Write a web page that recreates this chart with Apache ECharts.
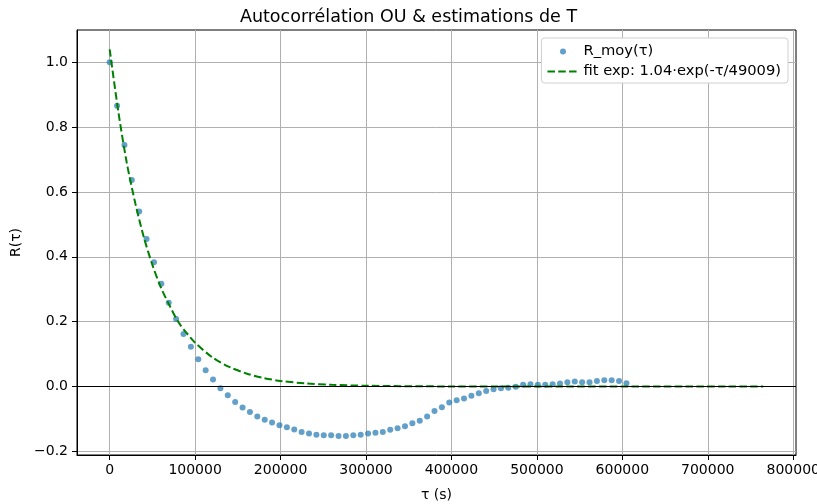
<!DOCTYPE html>
<html>
<head>
<meta charset="utf-8">
<script src="https://cdn.jsdelivr.net/npm/echarts@6/dist/echarts.min.js"></script>
<style>
  html, body { margin: 0; padding: 0; background: #fff; }
  #chart { width: 817px; height: 504px; }
</style>
</head>
<body>
<div id="chart"></div>
<script>
// lag step: 8640 s (0.1 day), 71 lags
const tauStep = 8640;
const rMoy = [
  1.000, 0.866, 0.745, 0.637, 0.540, 0.455, 0.383, 0.317, 0.258, 0.208,
  0.162, 0.122, 0.084, 0.050, 0.0215, -0.006, -0.027, -0.048, -0.065, -0.079,
  -0.093, -0.103, -0.111, -0.120, -0.126, -0.133, -0.141, -0.145, -0.149, -0.151,
  -0.151, -0.153, -0.153, -0.151, -0.149, -0.145, -0.143, -0.141, -0.134, -0.129,
  -0.123, -0.114, -0.106, -0.093, -0.076, -0.064, -0.050, -0.043, -0.037, -0.029,
  -0.021, -0.014, -0.009, -0.006, -0.004, -0.001, 0.005, 0.007, 0.005, 0.005,
  0.007, 0.009, 0.013, 0.015, 0.013, 0.013, 0.017, 0.019, 0.019, 0.017,
  0.010
];
// dashed fit curve
const fitTau = [0, 10000, 20000, 30000, 40000, 50000, 60000, 70000, 80000, 90000,
  100000, 120000, 140000, 160000, 180000, 200000, 230000, 260000, 300000, 400000, 765000];
const fitVal = [1.04, 0.85, 0.69, 0.565, 0.46, 0.375, 0.305, 0.25, 0.20, 0.165,
  0.135, 0.09, 0.06, 0.04, 0.026, 0.017, 0.009, 0.005, 0.002, 0.0, 0.0];

const xTicks = [0, 100000, 200000, 300000, 400000, 500000, 600000, 700000, 800000];
const yTicks = [-0.2, 0.0, 0.2, 0.4, 0.6, 0.8, 1.0];

const scatterData = rMoy.map((v, i) => [i * tauStep, v]);
const fitData = fitTau.map((t, i) => [t, fitVal[i]]);

const font = 'DejaVu Sans';
const chart = echarts.init(document.getElementById('chart'), null, { renderer: 'canvas' });

chart.setOption({
  animation: false,
  backgroundColor: '#fff',
  textStyle: { fontFamily: font },
  title: {
    text: 'Autocorrélation OU & estimations de T',
    left: 'center', top: 3,
    textStyle: { fontFamily: font, fontSize: 17.5, fontWeight: 'normal', color: '#000' }
  },
  grid: {
    left: 77, right: 21, top: 30, bottom: 49,
    outerBoundsMode: 'none', containLabel: false,
    show: true, borderColor: '#000', borderWidth: 1, backgroundColor: '#fff'
  },
  legend: {
    right: 29, top: 38,
    orient: 'vertical',
    backgroundColor: '#fff',
    borderColor: '#d0d0d0', borderWidth: 1, borderRadius: 3,
    padding: [6, 7, 4, 5],
    itemGap: 5,
    itemWidth: 31, itemHeight: 6,
    textStyle: { fontFamily: font, fontSize: 14.7, color: '#000' },
    data: [
      { name: 'R_moy(τ)', icon: 'circle' },
      { name: 'fit exp: 1.04·exp(-τ/49009)', itemStyle: { opacity: 0 } }
    ]
  },
  xAxis: {
    type: 'value', min: -38250, max: 803250,
    name: 'τ (s)', nameLocation: 'middle', nameGap: 33,
    nameTextStyle: { fontFamily: font, fontSize: 14, color: '#000' },
    axisLine: { show: true, onZero: false, lineStyle: { color: '#000' } },
    axisTick: { show: true, customValues: xTicks, length: 5, lineStyle: { color: '#000' } },
    axisLabel: { customValues: xTicks, color: '#000', fontSize: 14, fontFamily: font, margin: 8,
      formatter: v => String(v) },
    splitLine: { show: true, lineStyle: { color: '#b0b0b0', width: 1 } }
  },
  yAxis: {
    type: 'value', min: -0.2116, max: 1.0996,
    name: 'R(τ)', nameLocation: 'middle', nameGap: 48, nameRotate: 90,
    nameTextStyle: { fontFamily: font, fontSize: 14, color: '#000' },
    axisLine: { show: true, onZero: false, lineStyle: { color: '#000' } },
    axisTick: { show: true, customValues: yTicks, length: 5, lineStyle: { color: '#000' } },
    axisLabel: { customValues: yTicks, color: '#000', fontSize: 14, fontFamily: font, margin: 9,
      formatter: v => v.toFixed(1).replace('-', '\u2212') },
    splitLine: { show: true, lineStyle: { color: '#b0b0b0', width: 1 } }
  },
  series: [
    {
      name: 'R_moy(τ)', type: 'scatter',
      data: scatterData,
      symbolSize: 6,
      itemStyle: { color: '#1f77b4', opacity: 0.7 },
      z: 3,
      markLine: {
        silent: true, symbol: 'none', label: { show: false },
        lineStyle: { color: '#000', width: 1, type: 'solid' },
        data: [{ yAxis: 0 }]
      }
    },
    {
      name: 'fit exp: 1.04·exp(-τ/49009)', type: 'line',
      data: fitData,
      smooth: 0.3,
      showSymbol: false, symbol: 'none',
      lineStyle: { color: '#008000', width: 2, type: [7.5, 3.3] },
      itemStyle: { color: '#008000' },
      z: 4
    }
  ]
});
</script>
</body>
</html>
